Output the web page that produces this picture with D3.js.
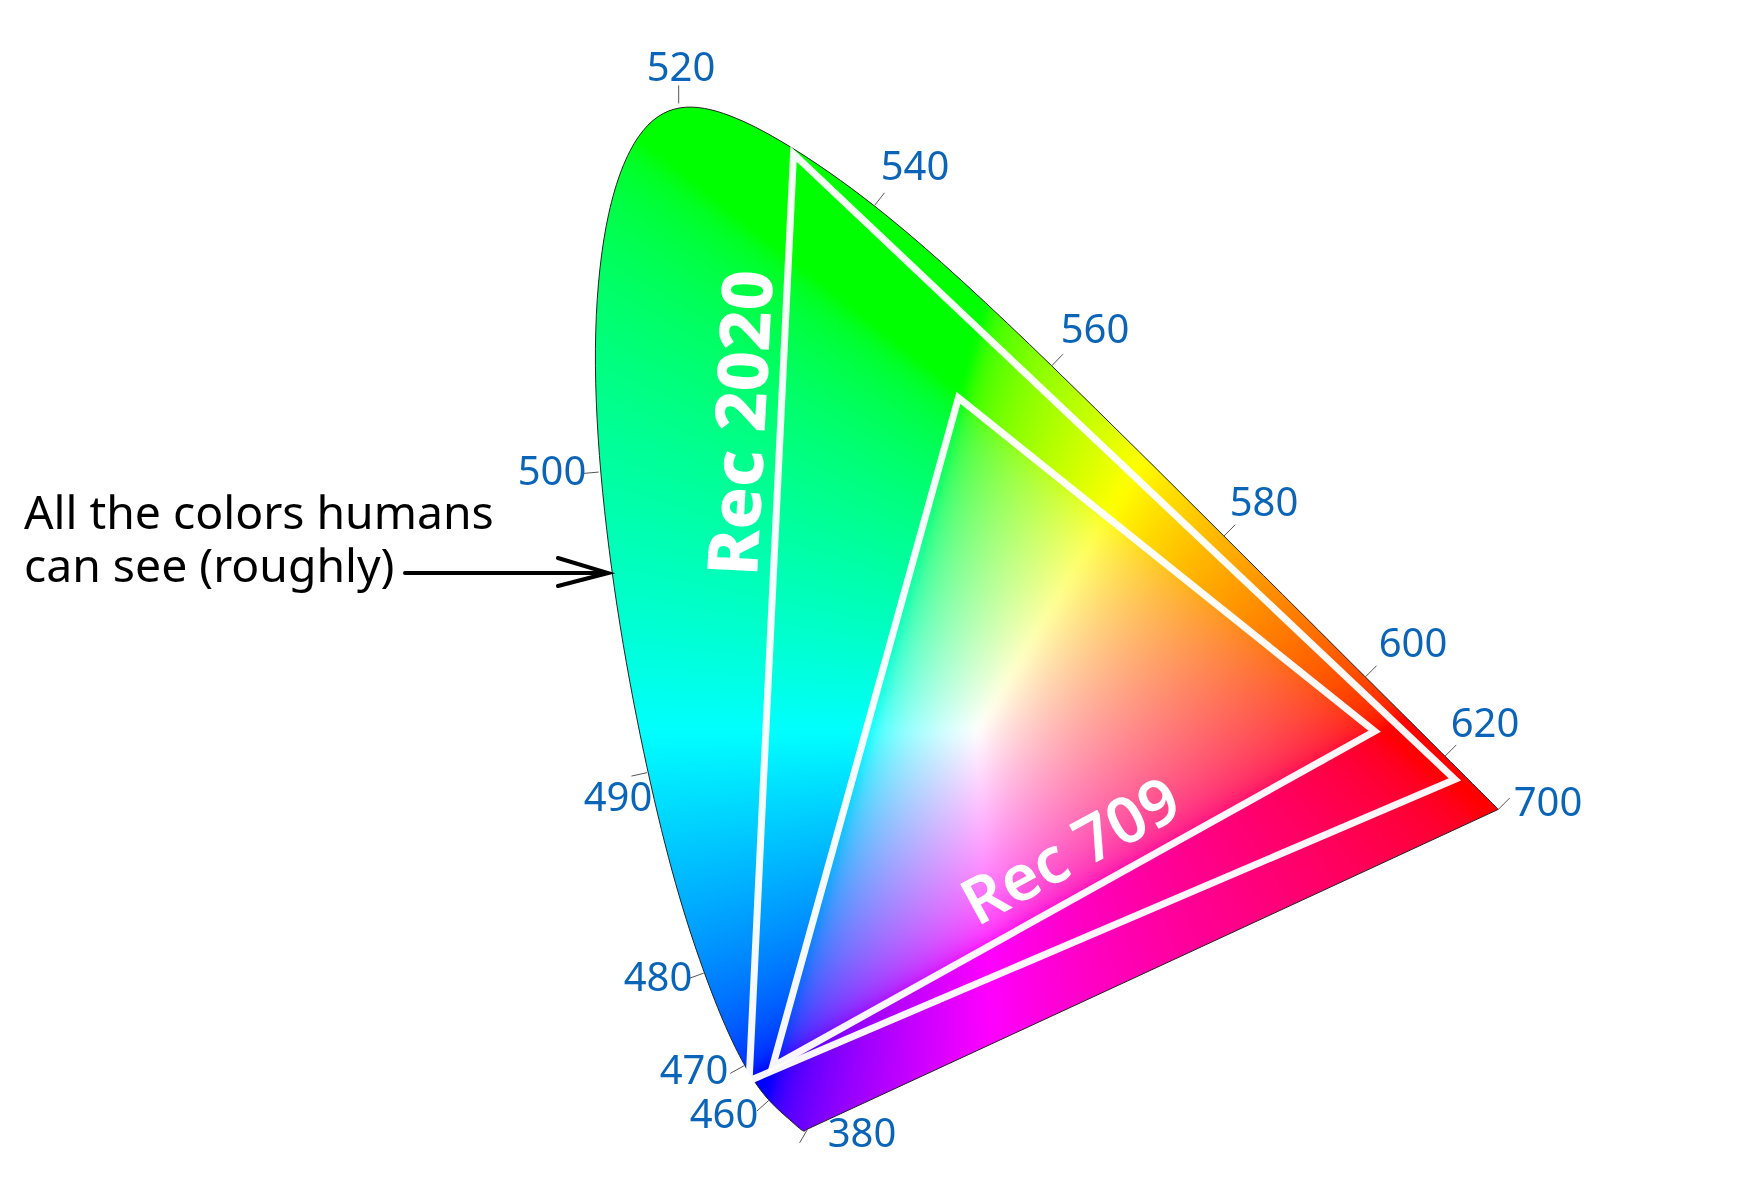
<!DOCTYPE html>
<html><head><meta charset="utf-8">
<script src="https://cdn.jsdelivr.net/npm/d3@7"></script>
<style>html,body{margin:0;background:#fff;overflow:hidden}
#c,#s{position:absolute;left:0;top:0}
text{font-family:"Noto Sans","Open Sans",sans-serif}</style></head>
<body><canvas id="c" width="1750" height="1178"></canvas><svg id="s" width="1750" height="1178"></svg>
<script>
const locusX=[.1755,.1752,.1738,.1736,.1733,.1730,.1726,.1721,.1714,.1703,.1689,.1669,.1644,.1611,.1566,.1510,.1440,.1355,.1241,.1096,.0913,.0687,.0454,.0225,.0062,.0012,.0120,.0370,.0710,.1125,.1540,.1929,.2296,.2658,.3016,.3373,.3731,.4087,.4441,.4788,.5125,.5448,.5752,.6029,.6270,.6482,.6658,.6801,.6915,.7006,.7079,.7140,.7190,.7230,.7260,.7283,.7300,.7311,.7320,.7327,.7334,.7340,.7344,.7346,.7347];
const locusY=[.0065,.0065,.0058,.0052,.0048,.0048,.0048,.0048,.0051,.0058,.0069,.0086,.0109,.0138,.0177,.0227,.0297,.0399,.0578,.0868,.1327,.2007,.2950,.4127,.5384,.6548,.7535,.8170,.8385,.8290,.8070,.7816,.7543,.7243,.6923,.6589,.6245,.5896,.5547,.5202,.4866,.4544,.4242,.3965,.3725,.3514,.3340,.3197,.3083,.2993,.2920,.2859,.2809,.2770,.2740,.2717,.2700,.2689,.2680,.2673,.2666,.2660,.2656,.2654,.2653];
const tickWavelengths=[380,460,470,480,490,500,520,540,560,580,600,620,700];
const rec709=[[.6345,.3285],[.2975,.5985],[.1470,.0570]];
const rec2020=[[.6995,.2895],[.1640,.7960],[.1280,.0455]];

const sx=d3.scaleLinear().domain([0,1]).range([591,1826]);
const sy=d3.scaleLinear().domain([0,1]).range([1137,-98]);
const pts=locusX.map((x,i)=>[sx(x),sy(locusY[i])]);
const line=d3.line();
const outline=d3.line().curve(d3.curveBasis)(pts)+'Z';

// colour field
const cv=document.getElementById('c'),ctx=cv.getContext('2d');
const off=document.createElement('canvas');off.width=1750;off.height=1178;
const oc=off.getContext('2d'),im=oc.createImageData(1750,1178);
const gam=v=>{v=Math.max(0,Math.min(1,v));return 255*(v<=.0031308?12.92*v:1.055*Math.pow(v,1/2.4)-.055)};
for(let py=0;py<1178;py++)for(let px=0;px<1750;px++){
  const x=sx.invert(px),y=Math.max(.001,sy.invert(py));
  const X=x/y,Y=1,Z=(1-x-y)/y;
  let r=3.2406*X-1.5372*Y-.4986*Z,g=-.9689*X+1.8758*Y+.0415*Z,b=.0557*X-.2040*Y+1.0570*Z;
  r=Math.max(0,r);g=Math.max(0,g);b=Math.max(0,b);
  const m=Math.max(r,g,b);
  const i=(py*1750+px)*4;
  im.data[i]=gam(r/m);im.data[i+1]=gam(g/m);im.data[i+2]=gam(b/m);im.data[i+3]=255;
}
oc.putImageData(im,0,0);
ctx.save();ctx.clip(new Path2D(outline));ctx.filter='blur(5px)';ctx.drawImage(off,0,0);ctx.restore();

const svg=d3.select('#s');
svg.append('path').attr('d',outline).attr('fill','none').attr('stroke','#222').attr('stroke-width',1);

const tri=d=>line(d.map(p=>[sx(p[0]),sy(p[1])]))+'Z';
[rec709,rec2020].forEach(t=>svg.append('path').attr('d',tri(t)).attr('fill','none')
  .attr('stroke','#fff').attr('stroke-width',7).attr('stroke-linejoin','miter').attr('stroke-miterlimit',10).attr('opacity',.96));

// ticks
const labelPos={380:[862,1147],460:[724,1128],470:[694,1084],480:[658,991],490:[618,811],500:[552,485],520:[681,81],540:[915,180],560:[1095,343],580:[1264,516],600:[1413,657],620:[1485,737],700:[1548,816]};
tickWavelengths.forEach(w=>{
  const i=(w-380)/5,p=pts[i];
  const a=pts[Math.max(0,i-1)],b=pts[Math.min(pts.length-1,i+1)];
  let dx=b[1]-a[1],dy=-(b[0]-a[0]);
  if(w==380){dx=-.5;dy=.85} else if(w==700){dx=.7;dy=-.7} else if(w==520){dx=0;dy=-1}
  const l=Math.hypot(dx,dy)||1;dx/=l;dy/=l;
  if((p[0]-960)*dx+(p[1]-725)*dy<0){dx=-dx;dy=-dy}
  svg.append('line').attr('x1',p[0]).attr('y1',p[1]+(w==520?2:0)).attr('x2',p[0]+dx*16).attr('y2',p[1]+dy*16)
    .attr('stroke','#555').attr('stroke-width',1);
  const q=labelPos[w];
  svg.append('text').attr('x',q[0]).attr('y',q[1]).attr('text-anchor','middle')
    .attr('font-size',40).attr('fill','#0a64b8').text(w);
});

// annotation
svg.append('text').attr('x',24).attr('y',529).attr('font-size',46.3).attr('fill','#000').text('All the colors humans');
svg.append('text').attr('x',24).attr('y',582).attr('font-size',46.3).attr('fill','#000').text('can see (roughly)');
svg.append('path').attr('d','M405 573H606M558 558L608 573L558 586').attr('fill','none').attr('stroke','#000').attr('stroke-width',4).attr('stroke-linecap','round');

svg.append('text').attr('transform','translate(757,577) rotate(-87)').attr('font-size',70).attr('font-weight',800).attr('fill','#fff').text('Rec 2020');
svg.append('text').attr('transform','translate(977,927) rotate(-28.5)').attr('font-size',64).attr('font-weight',600).attr('fill','#fff').text('Rec 709');
</script></body></html>
